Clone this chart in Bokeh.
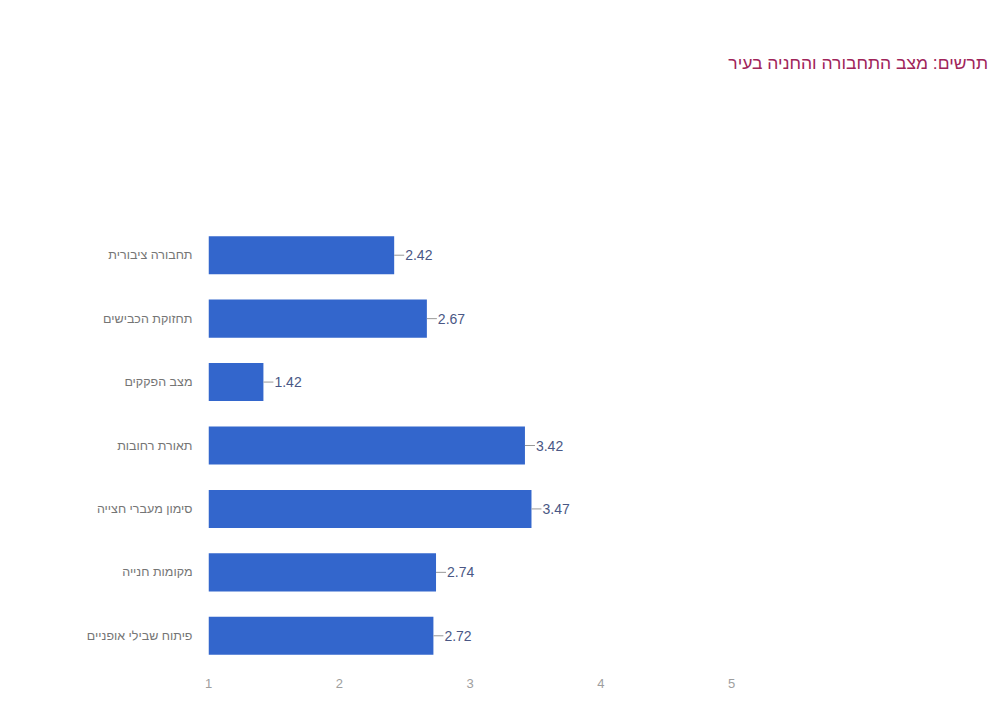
from bokeh.plotting import figure
from bokeh.models import ColumnDataSource, FactorRange, Range1d, FixedTicker, Div
from bokeh.layouts import column
from bokeh.embed import file_html
from bokeh.resources import INLINE
from bokeh.core.properties import value

title_text = "תרשים: מצב התחבורה והחניה בעיר"
categories = [
    "תחבורה ציבורית",
    "תחזוקת הכבישים",
    "מצב הפקקים",
    "תאורת רחובות",
    "סימון מעברי חצייה",
    "מקומות חנייה",
    "פיתוח שבילי אופניים",
]
scores = [2.42, 2.67, 1.42, 3.42, 3.47, 2.74, 2.72]
x_ticks = [1, 2, 3, 4, 5]

FONT = "Liberation Sans, Arial, sans-serif"

src = ColumnDataSource(dict(
    cat=categories,
    val=scores,
    lbl=[f"{v:.2f}" for v in scores],
    base=[x_ticks[0]] * len(scores),
))

header = Div(
    text=(f'<div dir="rtl" style="display:block;width:990px;box-sizing:border-box;'
          f'padding-top:52px;padding-right:2px;text-align:right;'
          f'color:#a0245a;font-family:{FONT};font-size:17.5px;line-height:22px;">'
          f'{title_text}</div>'),
    width=990, height=223, margin=(0, 0, 0, 0),
)

p = figure(
    width=990, height=484,
    y_range=FactorRange(*reversed(categories)),
    x_range=Range1d(1, 6.965),
    output_backend="svg", toolbar_location=None,
    min_border_left=208, min_border_right=2,
    min_border_top=0, min_border_bottom=40,
    margin=(0, 0, 0, 0),
)
p.outline_line_color = None
p.background_fill_color = "white"
p.border_fill_color = "white"
p.xgrid.visible = False
p.ygrid.visible = False

p.hbar(y="cat", left="base", right="val", height=0.6, source=src,
       fill_color="#3366cc", line_color=None)

p.ray(x="val", y="cat", length=10, length_units="screen", angle=0,
      source=src, line_color="#999999", line_width=1)

p.text(x="val", y="cat", text="lbl", source=src, x_offset=11,
       text_baseline="middle", text_align="left",
       text_font=value(FONT), text_font_size="14px", text_color="#4a5785")

p.xaxis.ticker = FixedTicker(ticks=x_ticks)
p.xaxis.axis_line_color = None
p.xaxis.major_tick_line_color = None
p.xaxis.minor_tick_line_color = None
p.xaxis.major_label_text_color = "#9e9e9e"
p.xaxis.major_label_text_font = FONT
p.xaxis.major_label_text_font_size = "13px"
p.xaxis.major_label_standoff = 5

p.yaxis.axis_line_color = None
p.yaxis.major_tick_line_color = None
p.yaxis.minor_tick_line_color = None
p.yaxis.major_label_text_color = "#757575"
p.yaxis.major_label_text_font = FONT
p.yaxis.major_label_text_font_size = "12.5px"
p.yaxis.major_label_standoff = 10

layout = column(header, p, spacing=0)

open("out.html", "w").write(file_html(layout, INLINE))
